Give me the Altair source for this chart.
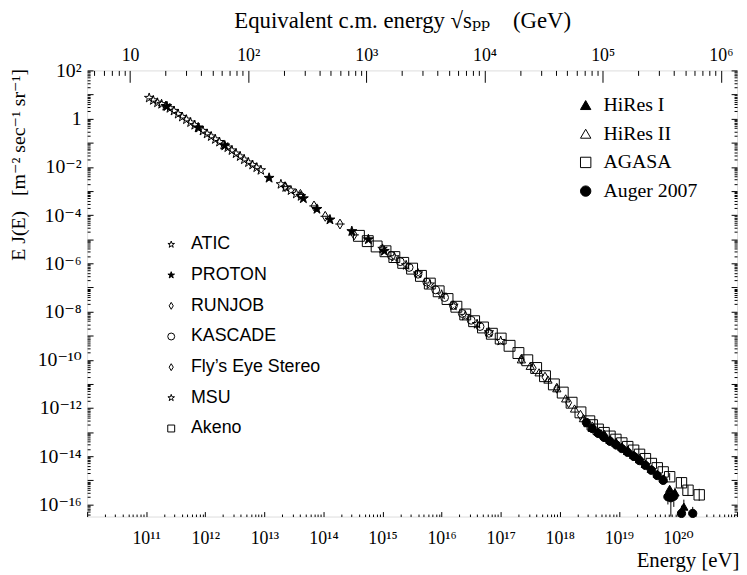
import altair as alt
import pandas as pd

# ---------------- values ----------------
# log10(E / eV)  and  log10(E J(E) / m^-2 s^-1 sr^-1)
ATIC_logE = [11.05, 11.12, 11.19, 11.26, 11.33, 11.40, 11.47, 11.54, 11.61, 11.68,
             11.75, 11.82, 11.89, 11.96, 12.03, 12.10, 12.17, 12.24, 12.31, 12.38,
             12.45, 12.52, 12.59, 12.66, 12.73, 12.80, 12.87, 12.94,
             13.28, 13.36, 13.45, 13.54, 13.62]
ATIC_logF = [0.86, 0.76, 0.66, 0.60, 0.52, 0.43, 0.32, 0.19, 0.07, -0.04,
             -0.16, -0.27, -0.39, -0.51, -0.63, -0.74, -0.86, -0.97, -1.09, -1.20,
             -1.32, -1.45, -1.57, -1.70, -1.82, -1.92, -2.03, -2.14,
             -2.72, -2.85, -2.98, -3.12, -3.22]

PROTON_logE = [11.35, 11.88, 12.33, 13.08, 13.66, 13.89, 14.11, 14.48, 14.76, 15.03]
PROTON_logF = [0.51, -0.37, -1.12, -2.46, -3.31, -3.75, -4.19, -4.67, -5.01, -5.49]

RUNJOB_logE = [13.35, 13.61, 13.84, 14.03, 14.28, 14.52]
RUNJOB_logF = [-2.82, -3.14, -3.62, -4.05, -4.37, -4.82]
RUNJOB_logE_lo = [13.27, 13.53, 13.76, 13.95, 14.20, 14.44]
RUNJOB_logE_hi = [13.43, 13.69, 13.92, 14.11, 14.36, 14.60]

KASCADE_logE = [15.15, 15.30, 15.45, 15.60, 15.75, 15.90, 16.05, 16.20, 16.35, 16.50, 16.65, 16.80]
KASCADE_logF = [-5.68, -5.93, -6.17, -6.45, -6.78, -7.10, -7.42, -7.75, -8.08, -8.36, -8.62, -8.90]

FLYS_logE = [17.35, 17.55, 17.75, 17.95, 18.15, 18.35, 18.55, 18.75, 18.95, 19.15, 19.35]
FLYS_logF = [-9.98, -10.35, -10.72, -11.18, -11.78, -12.30, -12.78, -13.12, -13.46, -13.78, -14.12]

MSU_logE = [15.0, 15.2, 15.4, 15.6, 15.8, 16.0, 16.2, 16.4, 16.6, 16.8, 17.0]
MSU_logF = [-5.40, -5.75, -6.08, -6.42, -6.88, -7.30, -7.76, -8.18, -8.52, -8.86, -9.22]

AKENO_logE = [14.60, 14.75, 14.90, 15.05, 15.20, 15.35, 15.50, 15.65, 15.80, 15.95,
              16.10, 16.25, 16.40, 16.55, 16.70, 16.85, 17.00, 17.15, 17.30, 17.45,
              17.60, 17.75, 17.90, 18.05, 18.20, 18.35, 18.50]
AKENO_logF = [-4.86, -5.08, -5.30, -5.50, -5.74, -5.98, -6.22, -6.52, -6.84, -7.16,
              -7.48, -7.80, -8.12, -8.40, -8.66, -8.92, -9.12, -9.42, -9.72, -10.02,
              -10.34, -10.68, -11.02, -11.36, -11.78, -12.18, -12.55]

HIRES1_logE = [18.55, 18.65, 18.75, 18.85, 18.95, 19.05, 19.15, 19.25, 19.35, 19.45,
               19.55, 19.65, 19.75, 19.86, 19.95, 20.10]
HIRES1_logF = [-12.82, -12.98, -13.13, -13.30, -13.45, -13.60, -13.77, -13.94, -14.12, -14.32,
               -14.52, -14.72, -14.92, -15.35, -15.50, -16.09]

HIRES2_logE = [17.35, 17.50, 17.65, 17.80, 17.95, 18.10, 18.25, 18.40, 18.55, 18.70,
               18.85, 19.00, 19.15, 19.30, 19.45]
HIRES2_logF = [-9.98, -10.25, -10.52, -10.82, -11.18, -11.60, -12.02, -12.42, -12.80, -13.05,
               -13.32, -13.55, -13.78, -14.02, -14.30]

AGASA_logE = [18.55, 18.65, 18.75, 18.85, 18.95, 19.05, 19.15, 19.25, 19.35, 19.45,
              19.55, 19.65, 19.75, 19.86, 20.06, 20.17, 20.36]
AGASA_logF = [-12.70, -12.88, -13.02, -13.17, -13.30, -13.45, -13.60, -13.75, -13.92, -14.10,
              -14.30, -14.48, -14.65, -14.85, -15.10, -15.41, -15.60]

AUGER_logE = [18.45, 18.55, 18.65, 18.75, 18.85, 18.95, 19.05, 19.15, 19.25, 19.35,
              19.45, 19.55, 19.65, 19.75, 19.83, 19.88, 19.93, 20.06, 20.25]
AUGER_logF = [-12.60, -12.85, -13.05, -13.22, -13.38, -13.52, -13.68, -13.84, -14.00, -14.18,
              -14.38, -14.58, -14.80, -15.00, -15.68, -15.72, -15.66, -16.37, -16.37]

# vertical error bars (log10 E, log10 low, log10 high)
ERRV_logE = [19.86, 20.06, 20.17, 20.36, 19.83, 19.88, 19.93, 20.06, 20.25, 19.95, 20.10]
ERRV_lo = [-15.00, -15.30, -15.65, -15.85, -16.00, -16.50, -16.10, -16.50, -16.50, -15.75, -16.50]
ERRV_hi = [-14.70, -14.90, -15.20, -15.35, -15.40, -15.45, -15.40, -16.05, -16.10, -15.30, -15.80]

LEFT_NAMES = ["ATIC", "PROTON", "RUNJOB", "KASCADE", "Fly\u2019s Eye Stereo", "MSU", "Akeno"]
RIGHT_NAMES = ["HiRes I", "HiRes II", "AGASA", "Auger 2007"]

X_LABEL_EXP = [11, 12, 13, 14, 15, 16, 17, 18, 19, 20]
X_LABELS = ["10\u00b9\u00b9", "10\u00b9\u00b2", "10\u00b9\u00b3", "10\u00b9\u2074", "10\u00b9\u2075",
            "10\u00b9\u2076", "10\u00b9\u2077", "10\u00b9\u2078", "10\u00b9\u2079", "10\u00b2\u2070"]
Y_LABEL_EXP = [-16, -14, -12, -10, -8, -6, -4, -2, 0, 2]
Y_LABELS = ["10\u207b\u00b9\u2076", "10\u207b\u00b9\u2074", "10\u207b\u00b9\u00b2", "10\u207b\u00b9\u2070",
            "10\u207b\u2078", "10\u207b\u2076", "10\u207b\u2074", "10\u207b\u00b2", "1", "10\u00b2"]
S_LABEL_EXP = [1, 2, 3, 4, 5, 6]
S_LABELS = ["10", "10\u00b2", "10\u00b3", "10\u2074", "10\u2075", "10\u2076"]

# ---------------- styles ----------------
STAR = ("M0,-1L0.2245,-0.309L0.9511,-0.309L0.3633,0.118L0.5878,0.809L0,0.382"
        "L-0.5878,0.809L-0.3633,0.118L-0.9511,-0.309L-0.2245,-0.309Z")
DIAM = "M0,-1L0.6,0L0,1L-0.6,0Z"
LEFT_SHAPES = [STAR, STAR, DIAM, "circle", DIAM, STAR, "square"]
LEFT_FILLS = ["transparent", "black", "transparent", "transparent", "transparent", "transparent", "transparent"]
LEFT_SIZES = [100, 110, 100, 64, 100, 100, 121]
RIGHT_SHAPES = ["triangle-up", "triangle-up", "square", "circle"]
RIGHT_FILLS = ["black", "transparent", "transparent", "black"]
RIGHT_SIZES = [70, 70, 110, 70]

SERIF = "Liberation Serif, DejaVu Serif, serif"
SANS = "Liberation Sans, Arial, sans-serif"

left_data = [ATIC_logE, PROTON_logE, RUNJOB_logE, KASCADE_logE, FLYS_logE, MSU_logE, AKENO_logE]
left_flux = [ATIC_logF, PROTON_logF, RUNJOB_logF, KASCADE_logF, FLYS_logF, MSU_logF, AKENO_logF]
right_data = [HIRES1_logE, HIRES2_logE, AGASA_logE, AUGER_logE]
right_flux = [HIRES1_logF, HIRES2_logF, AGASA_logF, AUGER_logF]

rows_l = []
for name, le, lf, sz in zip(LEFT_NAMES, left_data, left_flux, LEFT_SIZES):
    for a, b in zip(le, lf):
        rows_l.append({"E": 10 ** a, "F": 10 ** b, "exp": name, "sz": sz})
df_l = pd.DataFrame(rows_l)

rows_r = []
for name, le, lf, sz in zip(RIGHT_NAMES, right_data, right_flux, RIGHT_SIZES):
    for a, b in zip(le, lf):
        rows_r.append({"E": 10 ** a, "F": 10 ** b, "exp2": name, "sz": sz})
df_r = pd.DataFrame(rows_r)

df_ev = pd.DataFrame({"E": [10 ** a for a in ERRV_logE],
                      "lo": [10 ** a for a in ERRV_lo],
                      "hi": [10 ** a for a in ERRV_hi]})
df_eh = pd.DataFrame({"lo": [10 ** a for a in RUNJOB_logE_lo],
                      "hi": [10 ** a for a in RUNJOB_logE_hi],
                      "F": [10 ** a for a in RUNJOB_logF]})

# ---------------- scales & axes ----------------
W, H = 657, 451
xs = alt.Scale(type="log", domain=[1e10, 1e21], nice=False)
ys = alt.Scale(type="log", domain=[10 ** -16.5, 1e2], nice=False)
smin, smax = (1.8765e-9 * 1e10) ** 0.5, (1.8765e-9 * 1e21) ** 0.5
ss = alt.Scale(type="log", domain=[smin, smax], nice=False)

MAJ = "abs(log(datum.value)/LN10 - round(log(datum.value)/LN10)) < 0.001"


def tsize(major, minor):
    return {"condition": {"test": MAJ, "value": major}, "value": minor}


def logticks(lo_exp, hi_exp, vmin, vmax):
    out = []
    for n in range(lo_exp, hi_exp + 1):
        for k in range(1, 10):
            v = k * 10.0 ** n
            if vmin * 0.999 <= v <= vmax * 1.001:
                out.append(v)
    return out


x_ticks = logticks(10, 21, 1e10, 1e21)
y_ticks = logticks(-17, 2, 10 ** -16.5, 1e2)
s_ticks = logticks(0, 6, smin, smax)


def lexpr(labels, offset, div=1):
    arr = "[" + ",".join("'" + s + "'" for s in labels) + "]"
    return arr + "[(round(log(datum.value)/LN10) - (" + str(offset) + "))/" + str(div) + "]"


common_tick = dict(labels=False, domain=False, grid=False, title=None,
                   tickColor="black", tickWidth=1)
common_lab = dict(ticks=False, tickSize=0, domain=False, grid=False, labelFont=SERIF,
                  labelColor="black", labelOverlap=False, labelFlush=False, labelBound=False,
                  titleFont=SERIF, titleColor="black", titleFontWeight="normal")

x_lab_axis = alt.Axis(orient="bottom", values=[10.0 ** e for e in X_LABEL_EXP],
                      labelExpr=lexpr(X_LABELS, 11), labelFontSize=18, labelPadding=13,
                      title="Energy [eV]", titleFontSize=21, titleX=W + 2, titleY=45,
                      titleAlign="right", titleBaseline="middle", titleAnchor="end", **common_lab)
y_lab_axis = alt.Axis(orient="left", values=[10.0 ** e for e in Y_LABEL_EXP],
                      labelExpr=lexpr(Y_LABELS, -16, 2), labelFontSize=20, labelPadding=6,
                      title="E J(E)\u00a0\u00a0\u00a0[m\u207b\u00b2 sec\u207b\u00b9 sr\u207b\u00b9]",
                      titleFontSize=20, titleX=-69, titleY=95, titleAngle=270,
                      titleAlign="center", titleBaseline="middle", **common_lab)
s_lab_axis = alt.Axis(orient="top", values=[10.0 ** e for e in S_LABEL_EXP],
                      labelExpr=lexpr(S_LABELS, 1), labelFontSize=18, labelPadding=6,
                      title="Equivalent c.m. energy \u221asₚₚ\u00a0\u00a0\u00a0\u00a0(GeV)",
                      titleFontSize=23, titleX=W / 2 - 10, titleY=-50, titleAlign="center",
                      titleBaseline="middle", **common_lab)

base_l = alt.Chart(df_l)

# ticks pointing inward: bottom (E) and left (flux)
t1 = base_l.mark_point(opacity=0).encode(
    x=alt.X("E:Q", scale=xs, axis=alt.Axis(orient="top", offset=-H, values=x_ticks,
                                            tickSize=tsize(5, 2.5), **common_tick)),
    y=alt.Y("F:Q", scale=ys, axis=alt.Axis(orient="right", offset=-W, values=y_ticks,
                                            tickSize=tsize(6, 3), **common_tick)),
)
# top labels (sqrt s) and right-edge inward ticks
t2 = base_l.transform_calculate(S="sqrt(1.8765e-9*datum.E)").mark_point(opacity=0).encode(
    x=alt.X("S:Q", scale=ss, axis=s_lab_axis),
    y=alt.Y("F:Q", scale=ys, axis=alt.Axis(orient="left", offset=-W, values=y_ticks,
                                            tickSize=tsize(6, 3), **common_tick)),
)
# top inward ticks (sqrt s)
t3 = base_l.transform_calculate(S="sqrt(1.8765e-9*datum.E)").mark_point(opacity=0).encode(
    x=alt.X("S:Q", scale=ss, axis=alt.Axis(orient="bottom", offset=-H, values=s_ticks,
                                            tickSize=tsize(12, 5), **common_tick)),
    y=alt.Y("F:Q", scale=ys, axis=None),
)

errv = alt.Chart(df_ev).mark_rule(color="black", strokeWidth=1).encode(
    x=alt.X("E:Q", scale=xs, axis=None),
    y=alt.Y("lo:Q", scale=ys, axis=None),
    y2="hi:Q",
)
errh = alt.Chart(df_eh).mark_rule(color="black", strokeWidth=1).encode(
    x=alt.X("lo:Q", scale=xs, axis=None),
    x2="hi:Q",
    y=alt.Y("F:Q", scale=ys, axis=None),
)

leg_l = alt.Legend(orient="none", legendX=76, legendY=167, padding=0, rowPadding=13.0,
                   labelOffset=11, labelFont=SANS, labelFontSize=18, labelColor="black",
                   labelLimit=400, symbolSize=49, symbolStrokeColor="black",
                   symbolStrokeWidth=1, title=None)
leg_r = alt.Legend(orient="none", legendX=494, legendY=25, padding=0, rowPadding=9,
                   labelOffset=8, labelFont=SERIF, labelFontSize=20, labelColor="black",
                   labelLimit=400, symbolSize=110, symbolStrokeColor="black",
                   symbolStrokeWidth=1, title=None)

pts_l = base_l.mark_point(filled=False, strokeWidth=1, opacity=1).encode(
    x=alt.X("E:Q", scale=xs, axis=x_lab_axis),
    y=alt.Y("F:Q", scale=ys, axis=y_lab_axis),
    shape=alt.Shape("exp:N", scale=alt.Scale(domain=LEFT_NAMES, range=LEFT_SHAPES), legend=leg_l),
    fill=alt.Fill("exp:N", scale=alt.Scale(domain=LEFT_NAMES, range=LEFT_FILLS), legend=leg_l),
    stroke=alt.Stroke("exp:N", scale=alt.Scale(domain=LEFT_NAMES, range=["black"] * len(LEFT_NAMES)),
                      legend=leg_l),
    size=alt.Size("sz:Q", scale=None),
)
pts_r = alt.Chart(df_r).mark_point(filled=False, strokeWidth=1, opacity=1).encode(
    x=alt.X("E:Q", scale=xs, axis=None),
    y=alt.Y("F:Q", scale=ys, axis=None),
    shape=alt.Shape("exp2:N", scale=alt.Scale(domain=RIGHT_NAMES, range=RIGHT_SHAPES), legend=leg_r),
    fill=alt.Fill("exp2:N", scale=alt.Scale(domain=RIGHT_NAMES, range=RIGHT_FILLS), legend=leg_r),
    stroke=alt.Stroke("exp2:N", scale=alt.Scale(domain=RIGHT_NAMES, range=["black"] * len(RIGHT_NAMES)),
                      legend=leg_r),
    size=alt.Size("sz:Q", scale=None),
)

chart = alt.layer(t1, t2, t3, errv, errh, pts_l, pts_r).resolve_scale(
    x="independent", y="independent", shape="independent", fill="independent",
    stroke="independent"
).properties(
    width=W, height=H,
    padding={"left": 80, "top": 60, "right": 2, "bottom": 56},
    autosize=alt.AutoSizeParams(type="none"),
).configure_view(stroke="black", strokeWidth=1.6).configure(background="white")

chart.save("out.html", embed_options={"renderer": "svg", "actions": False})
